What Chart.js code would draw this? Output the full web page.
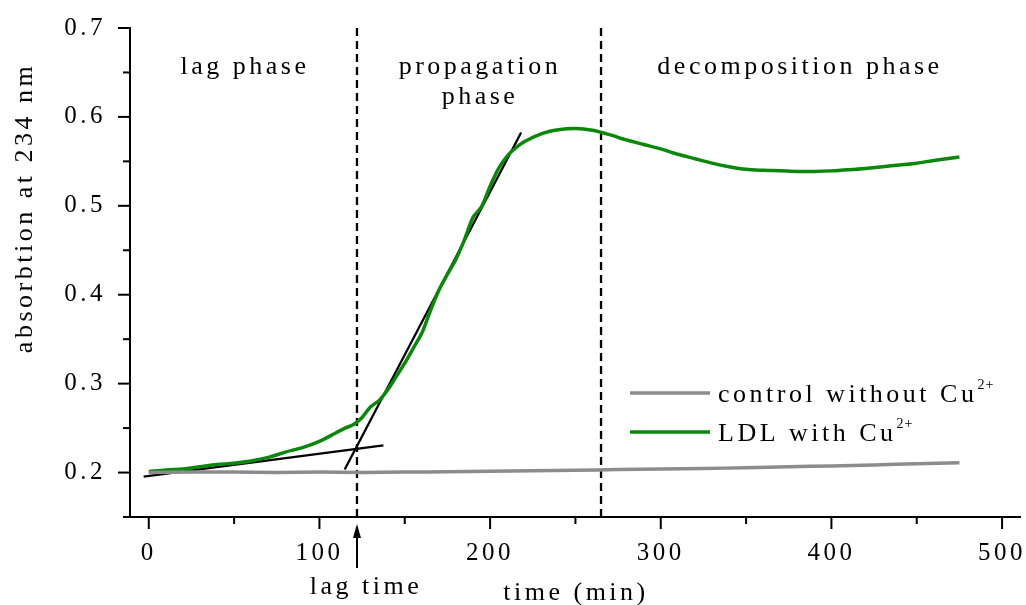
<!DOCTYPE html>
<html>
<head>
<meta charset="utf-8">
<script src="https://cdn.jsdelivr.net/npm/chart.js@4.4.1/dist/chart.umd.min.js"></script>
<style>
  html, body { margin: 0; padding: 0; background: #fff; }
  #wrap { width: 1026px; height: 605px; }
</style>
</head>
<body>
<div id="wrap"><canvas id="chart" width="1026" height="605"></canvas></div>
<script>
// data (time in min, absorption at 234 nm)
const ldlTime = [0, 10, 20, 30, 40, 50, 60, 70, 80, 90, 100, 110, 115, 120, 125, 130, 135, 140, 145, 150,
                 155, 160, 165, 170, 175, 180, 185, 190, 195, 200, 205, 210, 215, 220, 230, 240, 250, 260,
                 270, 280, 290, 300, 310, 320, 330, 340, 350, 360, 370, 380, 390, 400, 410, 420, 430, 440,
                 450, 460, 475];
const ldlValues = [0.201, 0.203, 0.204, 0.2065, 0.209, 0.2105, 0.213, 0.217, 0.223, 0.228, 0.235, 0.245, 0.25,
                   0.254, 0.262, 0.274, 0.281, 0.293, 0.308, 0.323, 0.34, 0.357, 0.382, 0.405, 0.423, 0.44,
                   0.462, 0.487, 0.499, 0.522, 0.542, 0.556, 0.565, 0.572, 0.581, 0.5855, 0.587, 0.585, 0.58,
                   0.574, 0.569, 0.564, 0.558, 0.553, 0.548, 0.544, 0.541, 0.540, 0.5395, 0.5387, 0.5387,
                   0.5393, 0.5405, 0.542, 0.544, 0.546, 0.548, 0.551, 0.555];

const controlTime = [0, 25, 50, 75, 100, 125, 150, 175, 200, 225, 250, 275, 300, 325, 350, 375, 400, 425, 450, 475];
const controlValues = [0.2, 0.2005, 0.2005, 0.2, 0.2005, 0.2, 0.2005, 0.201, 0.2015, 0.202, 0.2025, 0.2035,
                       0.204, 0.2045, 0.2055, 0.2065, 0.2075, 0.2085, 0.21, 0.211];

// tangent lines used to find the lag time
const lagTangentX = [-3, 137.5];
const lagTangentY = [0.1955, 0.2305];
const propTangentX = [114.8, 218.2];
const propTangentY = [0.2035, 0.5824];

// phase borders
const lagTime = 122;
const decompStart = 265;

const xTickValues = [0, 100, 200, 300, 400, 500];
const xMinorValues = [50, 150, 250, 350, 450];
const yTickValues = [0.2, 0.3, 0.4, 0.5, 0.6, 0.7];
const yMinorValues = [0.15, 0.25, 0.35, 0.45, 0.55, 0.65];

const seriesNames = ['control without Cu', 'LDL with Cu'];
const phaseNames = ['lag phase', 'propagation', 'phase', 'decomposition phase'];

const FONT = "'Liberation Serif', 'Times New Roman', serif";
const SPACING = '3.5px';

function toPoints(xs, ys) {
    return xs.map((x, i) => ({ x: x, y: ys[i] }));
}

// letter spacing, tick marks, labels and legend
const decorations = {
    id: 'decorations',
    beforeDraw(chart) {
        chart.ctx.letterSpacing = SPACING;
    },
    afterDraw(chart) {
        const ctx = chart.ctx;
        const x = chart.scales.x, y = chart.scales.y;
        const a = chart.chartArea;
        ctx.save();
        ctx.strokeStyle = '#000';
        ctx.lineWidth = 2;

        // tick marks (outward)
        const tick = (x1, y1, x2, y2) => { ctx.beginPath(); ctx.moveTo(x1, y1); ctx.lineTo(x2, y2); ctx.stroke(); };
        xTickValues.forEach(v => { const p = x.getPixelForValue(v); tick(p, a.bottom, p, a.bottom + 12); });
        xMinorValues.forEach(v => { const p = x.getPixelForValue(v); tick(p, a.bottom, p, a.bottom + 7); });
        yTickValues.forEach(v => { const p = y.getPixelForValue(v); tick(a.left, p, a.left - 12, p); });
        yMinorValues.forEach(v => { const p = y.getPixelForValue(v); tick(a.left, p, a.left - 7, p); });

        ctx.fillStyle = '#000';
        ctx.font = '26px ' + FONT;
        ctx.letterSpacing = SPACING;
        ctx.textAlign = 'center';
        ctx.textBaseline = 'alphabetic';

        // phase labels
        ctx.fillText(phaseNames[0], 245, 74);
        ctx.fillText(phaseNames[1], 480, 74);
        ctx.fillText(phaseNames[2], 480, 104);
        ctx.fillText(phaseNames[3], 800, 74);

        // lag time arrow
        const lx = x.getPixelForValue(lagTime);
        tick(lx, 568, lx, 532);
        ctx.beginPath();
        ctx.moveTo(lx, 524); ctx.lineTo(lx - 4, 538); ctx.lineTo(lx + 4, 538); ctx.closePath();
        ctx.fill();
        ctx.fillText('lag time', lx + 9, 594);

        // axis titles
        ctx.fillText('time (min)', 576, 600);
        ctx.save();
        ctx.translate(32, 208);
        ctx.rotate(-Math.PI / 2);
        ctx.fillText('absorbtion at 234 nm', 0, 0);
        ctx.restore();

        // legend
        const ds = chart.data.datasets;
        [[0, 393], [1, 432]].forEach(([i, ly]) => {
            ctx.strokeStyle = ds[i].borderColor;
            ctx.lineWidth = 3.5;
            tick(630, ly, 710, ly);
            ctx.textAlign = 'left';
            ctx.font = '26px ' + FONT;
            ctx.letterSpacing = SPACING;
            ctx.fillText(seriesNames[i], 718, ly + 9);
            const w = ctx.measureText(seriesNames[i]).width;
            ctx.font = '14px ' + FONT;
            ctx.letterSpacing = '1px';
            ctx.fillText('2+', 718 + w, ly - 4);
        });
        ctx.restore();
    }
};

const ctxMain = document.getElementById('chart').getContext('2d');
new Chart(ctxMain, {
    type: 'line',
    data: {
        datasets: [
            {
                label: 'control without Cu2+',
                data: toPoints(controlTime, controlValues),
                borderColor: '#8c8c8c',
                borderWidth: 3.5,
                pointRadius: 0,
                tension: 0.3
            },
            {
                label: 'LDL with Cu2+',
                data: toPoints(ldlTime, ldlValues),
                borderColor: '#0b870b',
                borderWidth: 3.5,
                pointRadius: 0,
                tension: 0.3
            },
            {
                label: 'lag tangent',
                data: toPoints(lagTangentX, lagTangentY),
                borderColor: '#000',
                borderWidth: 2.3,
                pointRadius: 0
            },
            {
                label: 'propagation tangent',
                data: toPoints(propTangentX, propTangentY),
                borderColor: '#000',
                borderWidth: 2.3,
                pointRadius: 0
            },
            {
                label: 'lag time',
                data: [{ x: lagTime, y: 0.15 }, { x: lagTime, y: 0.7 }],
                borderColor: '#000',
                borderWidth: 2.3,
                borderDash: [8, 5],
                pointRadius: 0
            },
            {
                label: 'decomposition start',
                data: [{ x: decompStart, y: 0.15 }, { x: decompStart, y: 0.7 }],
                borderColor: '#000',
                borderWidth: 2.3,
                borderDash: [8, 5],
                pointRadius: 0
            }
        ]
    },
    options: {
        responsive: false,
        animation: false,
        layout: { padding: { left: 0, right: 6, top: 28, bottom: 0 } },
        plugins: { legend: { display: false }, tooltip: { enabled: false } },
        scales: {
            x: {
                type: 'linear',
                min: -11,
                max: 510.5,
                grid: { display: false },
                border: { display: true, color: '#000', width: 2 },
                afterBuildTicks: s => { s.ticks = xTickValues.map(v => ({ value: v })); },
                afterFit: s => { s.height = 88; s.paddingLeft = 0; s.paddingRight = 0; },
                ticks: {
                    color: '#000',
                    padding: 13,
                    maxRotation: 0,
                    font: { family: FONT, size: 25 },
                    callback: v => String(v)
                }
            },
            y: {
                type: 'linear',
                min: 0.15,
                max: 0.7,
                grid: { display: false },
                border: { display: true, color: '#000', width: 2 },
                afterBuildTicks: s => { s.ticks = yTickValues.map(v => ({ value: v })); },
                afterFit: s => { s.width = 130; s.paddingTop = 0; s.paddingBottom = 0; },
                ticks: {
                    color: '#000',
                    padding: 16,
                    font: { family: FONT, size: 25 },
                    callback: v => v.toFixed(1)
                }
            }
        }
    },
    plugins: [decorations]
});
</script>
</body>
</html>
